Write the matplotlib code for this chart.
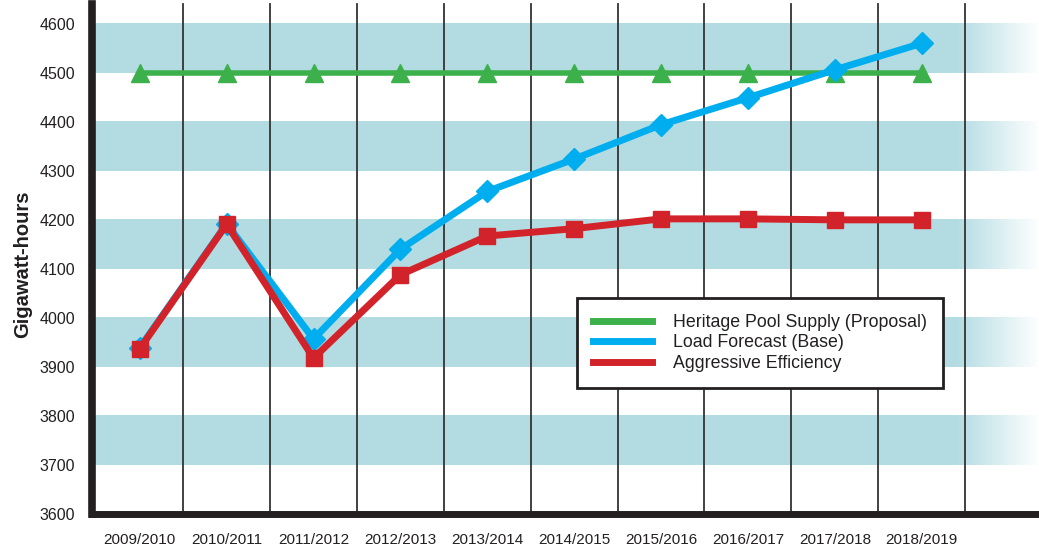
import matplotlib
matplotlib.use('Agg')
import matplotlib.pyplot as plt
from matplotlib.lines import Line2D
import numpy as np

# data
years = ['2009/2010', '2010/2011', '2011/2012', '2012/2013', '2013/2014',
         '2014/2015', '2015/2016', '2016/2017', '2017/2018', '2018/2019']
heritage = [4500, 4500, 4500, 4500, 4500, 4500, 4500, 4500, 4500, 4500]
load_forecast = [3939, 4192, 3957, 4140, 4258, 4324, 4394, 4449, 4506, 4560]
aggressive = [3937, 4191, 3918, 4088, 4167, 4182, 4202, 4202, 4200, 4200]
y_ticks = [3600, 3700, 3800, 3900, 4000, 4100, 4200, 4300, 4400, 4500, 4600]
bands = [(3700, 3800), (3900, 4000), (4100, 4200), (4300, 4400), (4500, 4600)]

font = ['Liberation Sans', 'DejaVu Sans']
band_col = np.array([0.702, 0.863, 0.890])

fig = plt.figure(figsize=(10.39, 5.52), dpi=100)
ax = fig.add_axes([0.0885, 0.0688, 0.9115, 0.906])

x = np.arange(len(years))
xmin, xmax = -0.55, 10.35
ax.set_xlim(xmin, xmax)
ax.set_ylim(3600, 4620)

# horizontal bands, fading to white on the right
fade_start = 9.4
cols = np.linspace(xmin, xmax, 1200)
t = np.clip((cols - fade_start) / (xmax - fade_start), 0, 1)
strip = band_col[None, :] * (1 - t[:, None]) + t[:, None]
strip = strip[None, :, :]
for lo, hi in bands:
    ax.imshow(strip, extent=[xmin, xmax, lo, hi], aspect='auto',
              interpolation='bilinear', zorder=0)

# vertical separators
for xv in x + 0.5:
    ax.plot([xv, xv], [3600, 4640], color='#333333', lw=1.3, zorder=1,
            clip_on=False)

ax.plot(x, heritage, color='#3cb04a', lw=4, marker='^', ms=13,
        label='Heritage Pool Supply (Proposal)', zorder=3)
ax.plot(x, load_forecast, color='#00aeef', lw=5, marker='D', ms=11,
        label='Load Forecast (Base)', zorder=4)
ax.plot(x, aggressive, color='#d2232a', lw=5, marker='s', ms=12,
        label='Aggressive Efficiency', zorder=5)

ax.set_xlim(xmin, xmax)
ax.set_ylim(3600, 4620)

ax.set_xticks(x)
ax.set_xticklabels(years, family=font, fontsize=11, color='#231f20')
ax.set_yticks(y_ticks)
ax.set_yticklabels([str(v) for v in y_ticks], family=font, fontsize=11.5,
                   color='#231f20')
ax.tick_params(axis='both', length=0)
ax.tick_params(axis='x', pad=14)
ax.tick_params(axis='y', pad=12)

ax.set_ylabel('Gigawatt-hours', family=font, fontsize=14.5,
              fontweight='bold', labelpad=5, color='#231f20')

for s in ['top', 'right']:
    ax.spines[s].set_visible(False)
ax.spines['left'].set_linewidth(5.5)
ax.spines['bottom'].set_linewidth(5)
ax.spines['left'].set_color('#231f20')
ax.spines['bottom'].set_color('#231f20')
ax.spines['left'].set_bounds(3600, 4640)
ax.spines['left'].set_clip_on(False)

handles, labels = ax.get_legend_handles_labels()
lh = [Line2D([0], [0], color=h.get_color(), lw=5) for h in handles]
leg = ax.legend(lh, labels, loc='lower left', bbox_to_anchor=(0.512, 0.252),
                prop={'family': font, 'size': 12.8}, frameon=True,
                fancybox=False, edgecolor='#231f20', framealpha=1,
                handlelength=3.3, handletextpad=1.2, labelspacing=0.2,
                borderpad=0.9, borderaxespad=0)
leg.get_frame().set_linewidth(2)
leg.set_zorder(10)
for txt in leg.get_texts():
    txt.set_color('#231f20')

fig.savefig('out.png', dpi=100)
